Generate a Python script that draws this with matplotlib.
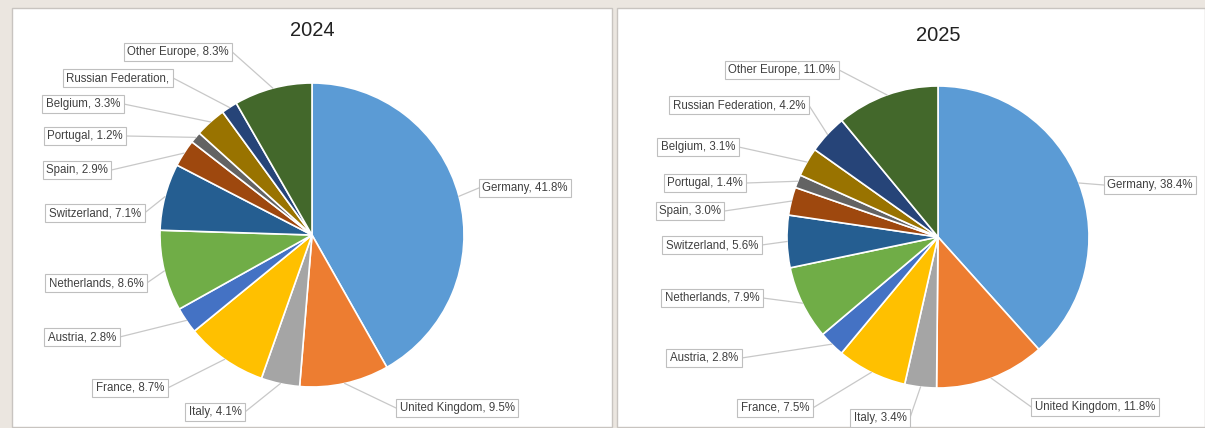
import matplotlib.pyplot as plt
from matplotlib.patches import Rectangle
import numpy as np

# Данные
countries = ['Germany', 'United Kingdom', 'Italy', 'France', 'Austria', 'Netherlands',
             'Switzerland', 'Spain', 'Portugal', 'Belgium', 'Russian Federation', 'Other Europe']
share_2024 = [41.8, 9.5, 4.1, 8.7, 2.8, 8.6, 7.1, 2.9, 1.2, 3.3, 1.7, 8.3]
share_2025 = [38.4, 11.8, 3.4, 7.5, 2.8, 7.9, 5.6, 3.0, 1.4, 3.1, 4.2, 11.0]
labels_2024 = ['Germany, 41.8%', 'United Kingdom, 9.5%', 'Italy, 4.1%', 'France, 8.7%',
               'Austria, 2.8%', 'Netherlands, 8.6%', 'Switzerland, 7.1%', 'Spain, 2.9%',
               'Portugal, 1.2%', 'Belgium, 3.3%', 'Russian Federation,', 'Other Europe, 8.3%']
labels_2025 = ['Germany, 38.4%', 'United Kingdom, 11.8%', 'Italy, 3.4%', 'France, 7.5%',
               'Austria, 2.8%', 'Netherlands, 7.9%', 'Switzerland, 5.6%', 'Spain, 3.0%',
               'Portugal, 1.4%', 'Belgium, 3.1%', 'Russian Federation, 4.2%', 'Other Europe, 11.0%']

colors = ['#5b9bd5', '#ed7d31', '#a5a5a5', '#ffc000', '#4472c4', '#70ad47',
          '#255e91', '#9e480e', '#636363', '#997300', '#264478', '#43682b']

W, H = 1205, 428

# положение подписей (пиксели, от верхнего края)
pos_2024 = [(525, 188), (457, 408), (215, 412), (130, 388), (82, 337), (96, 283),
            (95, 213), (77, 170), (85, 136), (83, 104), (118, 78), (178, 52)]
pos_2025 = [(1150, 185), (1095, 407), (880, 418), (775, 408), (704, 358), (712, 298),
            (712, 245), (690, 211), (705, 183), (698, 147), (739, 105), (782, 70)]

fig = plt.figure(figsize=(W / 100, H / 100), dpi=100)
fig.patch.set_facecolor('#ebe6e0')
ax = fig.add_axes([0, 0, 1, 1])
ax.axis('off')

# панели
for x0, x1 in [(12, 612), (617, 1205)]:
    ax.add_patch(Rectangle((x0, 1), x1 - x0, H - 9, facecolor='white',
                           edgecolor='#c8c4c0', lw=1.0, zorder=0))

leaders = []


def draw_pie(vals, labels, pos, cx, cy, r, title, ty):
    wedges, _ = ax.pie(vals, colors=colors, startangle=90, counterclock=False,
                       center=(cx, H - cy), radius=r,
                       wedgeprops=dict(edgecolor='white', linewidth=1.2))
    for w, lab, (px, py) in zip(wedges, labels, pos):
        ang = np.deg2rad((w.theta1 + w.theta2) / 2)
        ex = cx + r * np.cos(ang)
        ey = H - cy + r * np.sin(ang)
        t = ax.text(px, H - py, lab, ha='center', va='center', fontsize=8.3,
                    family='Liberation Sans', color='#404040', zorder=5,
                    bbox=dict(boxstyle='square,pad=0.3', fc='white', ec='#bfbfbf', lw=0.8))
        leaders.append((t, ex, ey))
    ax.text(cx, H - ty, title, ha='center', va='center', fontsize=14.5,
            family='Liberation Sans', color='#222222')


draw_pie(share_2024, labels_2024, pos_2024, 312, 235, 152, '2024', 30)
draw_pie(share_2025, labels_2025, pos_2025, 938, 237, 151, '2025', 35)

ax.set_autoscale_on(False)
ax.set_xlim(0, W)
ax.set_ylim(0, H)
ax.set_aspect('equal')

# выноски: от края рамки подписи к краю сектора
fig.canvas.draw()
inv = ax.transData.inverted()
for t, ex, ey in leaders:
    bb = t.get_bbox_patch().get_window_extent()
    (x0, y0), (x1, y1) = inv.transform([[bb.x0, bb.y0], [bb.x1, bb.y1]])
    if ex > x1:
        sx, sy = x1, (y0 + y1) / 2
    elif ex < x0:
        sx, sy = x0, (y0 + y1) / 2
    else:
        sx = np.clip(ex, x0, x1)
        sy = y1 if ey > y1 else y0
    ax.plot([sx, ex], [sy, ey], color='#c8c8c8', lw=0.9, zorder=4)

ax.set_xlim(0, W)
ax.set_ylim(0, H)

plt.savefig('out.png', dpi=100, facecolor=fig.get_facecolor())
